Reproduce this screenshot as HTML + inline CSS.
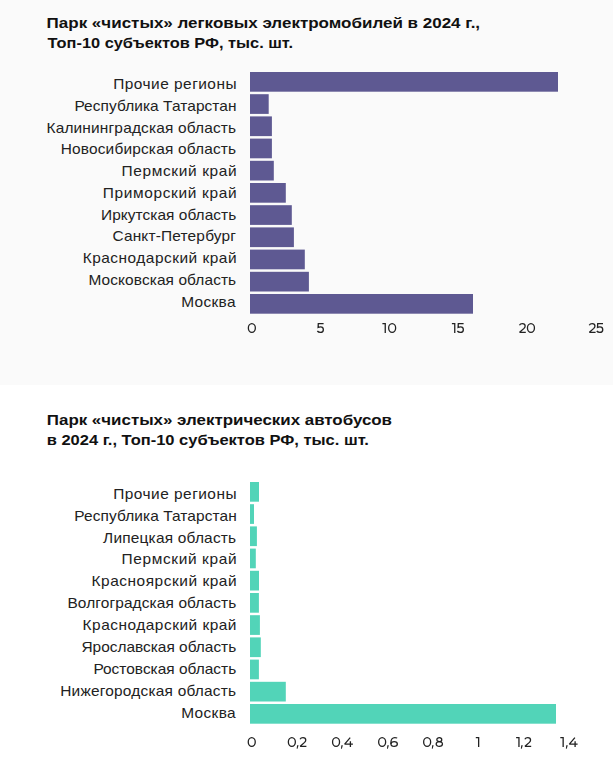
<!DOCTYPE html><html><head><meta charset="utf-8"><style>html,body{margin:0;padding:0;background:#fff;}svg{display:block;}text{font-family:"Liberation Sans",sans-serif;}</style></head><body>
<svg width="613" height="766" viewBox="0 0 613 766">
<rect x="0" y="0" width="613" height="385" fill="#fafafa"/>
<text x="46.62" y="27.9" font-size="15.2" font-weight="bold" fill="#111111" textLength="433.48" lengthAdjust="spacingAndGlyphs">Парк «чистых» легковых электромобилей в 2024 г.,</text>
<text x="47.61" y="47.9" font-size="15.2" font-weight="bold" fill="#111111" textLength="245.36" lengthAdjust="spacingAndGlyphs">Топ-10 субъектов РФ, тыс. шт.</text>
<rect x="250" y="72.00" width="308" height="19.7" fill="#5e5992"/>
<text transform="translate(236.54,89.00) scale(1.12,1)" x="0" y="0" font-size="13.8" fill="#222222" text-anchor="end" textLength="110.10" lengthAdjust="spacing">Прочие регионы</text>
<rect x="250" y="94.20" width="18.7" height="19.7" fill="#5e5992"/>
<text transform="translate(236.49,110.76) scale(1.12,1)" x="0" y="0" font-size="13.8" fill="#222222" text-anchor="end" textLength="144.71" lengthAdjust="spacing">Республика Татарстан</text>
<rect x="250" y="116.40" width="21.9" height="19.7" fill="#5e5992"/>
<text transform="translate(236.17,132.52) scale(1.12,1)" x="0" y="0" font-size="13.8" fill="#222222" text-anchor="end" textLength="169.37" lengthAdjust="spacing">Калининградская область</text>
<rect x="250" y="138.60" width="21.9" height="19.7" fill="#5e5992"/>
<text transform="translate(236.15,154.28) scale(1.12,1)" x="0" y="0" font-size="13.8" fill="#222222" text-anchor="end" textLength="156.72" lengthAdjust="spacing">Новосибирская область</text>
<rect x="250" y="160.80" width="23.8" height="19.7" fill="#5e5992"/>
<text transform="translate(236.56,176.04) scale(1.12,1)" x="0" y="0" font-size="13.8" fill="#222222" text-anchor="end" textLength="102.66" lengthAdjust="spacing">Пермский край</text>
<rect x="250" y="183.00" width="35.8" height="19.7" fill="#5e5992"/>
<text transform="translate(236.52,197.80) scale(1.12,1)" x="0" y="0" font-size="13.8" fill="#222222" text-anchor="end" textLength="119.50" lengthAdjust="spacing">Приморский край</text>
<rect x="250" y="205.20" width="41.8" height="19.7" fill="#5e5992"/>
<text transform="translate(236.24,219.56) scale(1.12,1)" x="0" y="0" font-size="13.8" fill="#222222" text-anchor="end" textLength="120.71" lengthAdjust="spacing">Иркутская область</text>
<rect x="250" y="227.40" width="43.9" height="19.7" fill="#5e5992"/>
<text transform="translate(235.93,241.32) scale(1.12,1)" x="0" y="0" font-size="13.8" fill="#222222" text-anchor="end" textLength="110.30" lengthAdjust="spacing">Санкт-Петербург</text>
<rect x="250" y="249.60" width="54.8" height="19.7" fill="#5e5992"/>
<text transform="translate(236.53,263.08) scale(1.12,1)" x="0" y="0" font-size="13.8" fill="#222222" text-anchor="end" textLength="137.38" lengthAdjust="spacing">Краснодарский край</text>
<rect x="250" y="271.80" width="58.9" height="19.7" fill="#5e5992"/>
<text transform="translate(236.18,284.84) scale(1.12,1)" x="0" y="0" font-size="13.8" fill="#222222" text-anchor="end" textLength="131.94" lengthAdjust="spacing">Московская область</text>
<rect x="250" y="294.00" width="223" height="19.7" fill="#5e5992"/>
<text transform="translate(235.49,306.60) scale(1.12,1)" x="0" y="0" font-size="13.8" fill="#222222" text-anchor="end" textLength="48.46" lengthAdjust="spacing">Москва</text>
<g transform="translate(247.70,323)" fill="none" stroke="#222222" stroke-width="1.3" stroke-miterlimit="2"><ellipse cx="4.15" cy="5" rx="3.5" ry="4.35"/></g>
<g transform="translate(317.00,323)" fill="none" stroke="#222222" stroke-width="1.3" stroke-miterlimit="2"><path d="M6.6,0.65H1.3L1.1,4.5C1.9,4.1 2.7,3.95 3.5,3.95C5.4,3.95 6.35,5.1 6.35,6.65C6.35,8.3 5.1,9.35 3.4,9.35C2.1,9.35 1.0,8.85 0.35,8.0"/></g>
<g transform="translate(382.40,323)" fill="none" stroke="#222222" stroke-width="1.3" stroke-miterlimit="2"><path d="M0,0.65H2.85V10"/></g>
<g transform="translate(388.00,323)" fill="none" stroke="#222222" stroke-width="1.3" stroke-miterlimit="2"><ellipse cx="4.15" cy="5" rx="3.5" ry="4.35"/></g>
<g transform="translate(451.90,323)" fill="none" stroke="#222222" stroke-width="1.3" stroke-miterlimit="2"><path d="M0,0.65H2.85V10"/></g>
<g transform="translate(457.00,323)" fill="none" stroke="#222222" stroke-width="1.3" stroke-miterlimit="2"><path d="M6.6,0.65H1.3L1.1,4.5C1.9,4.1 2.7,3.95 3.5,3.95C5.4,3.95 6.35,5.1 6.35,6.65C6.35,8.3 5.1,9.35 3.4,9.35C2.1,9.35 1.0,8.85 0.35,8.0"/></g>
<g transform="translate(518.70,323)" fill="none" stroke="#222222" stroke-width="1.3" stroke-miterlimit="2"><path d="M0.75,2.2C1.3,1.1 2.4,0.65 3.7,0.65C5.4,0.65 6.45,1.7 6.45,3.1C6.45,4.0 6.1,4.6 5.3,5.4L0.9,9.35H7.1"/></g>
<g transform="translate(526.80,323)" fill="none" stroke="#222222" stroke-width="1.3" stroke-miterlimit="2"><ellipse cx="4.15" cy="5" rx="3.5" ry="4.35"/></g>
<g transform="translate(588.50,323)" fill="none" stroke="#222222" stroke-width="1.3" stroke-miterlimit="2"><path d="M0.75,2.2C1.3,1.1 2.4,0.65 3.7,0.65C5.4,0.65 6.45,1.7 6.45,3.1C6.45,4.0 6.1,4.6 5.3,5.4L0.9,9.35H7.1"/></g>
<g transform="translate(596.40,323)" fill="none" stroke="#222222" stroke-width="1.3" stroke-miterlimit="2"><path d="M6.6,0.65H1.3L1.1,4.5C1.9,4.1 2.7,3.95 3.5,3.95C5.4,3.95 6.35,5.1 6.35,6.65C6.35,8.3 5.1,9.35 3.4,9.35C2.1,9.35 1.0,8.85 0.35,8.0"/></g>
<text x="46.83" y="424.7" font-size="15.2" font-weight="bold" fill="#111111" textLength="345.19" lengthAdjust="spacingAndGlyphs">Парк «чистых» электрических автобусов</text>
<text x="46.69" y="444.8" font-size="15.2" font-weight="bold" fill="#111111" textLength="322.21" lengthAdjust="spacingAndGlyphs">в 2024 г., Топ-10 субъектов РФ, тыс. шт.</text>
<rect x="250" y="482.00" width="9" height="19.7" fill="#52d4b8"/>
<text transform="translate(236.49,498.80) scale(1.12,1)" x="0" y="0" font-size="13.8" fill="#222222" text-anchor="end" textLength="110.08" lengthAdjust="spacing">Прочие регионы</text>
<rect x="250" y="504.20" width="4" height="19.7" fill="#52d4b8"/>
<text transform="translate(236.69,520.68) scale(1.12,1)" x="0" y="0" font-size="13.8" fill="#222222" text-anchor="end" textLength="144.96" lengthAdjust="spacing">Республика Татарстан</text>
<rect x="250" y="526.40" width="6.9" height="19.7" fill="#52d4b8"/>
<text transform="translate(236.16,542.56) scale(1.12,1)" x="0" y="0" font-size="13.8" fill="#222222" text-anchor="end" textLength="118.86" lengthAdjust="spacing">Липецкая область</text>
<rect x="250" y="548.60" width="5.8" height="19.7" fill="#52d4b8"/>
<text transform="translate(236.54,564.44) scale(1.12,1)" x="0" y="0" font-size="13.8" fill="#222222" text-anchor="end" textLength="102.65" lengthAdjust="spacing">Пермский край</text>
<rect x="250" y="570.80" width="9" height="19.7" fill="#52d4b8"/>
<text transform="translate(236.60,586.32) scale(1.12,1)" x="0" y="0" font-size="13.8" fill="#222222" text-anchor="end" textLength="129.58" lengthAdjust="spacing">Красноярский край</text>
<rect x="250" y="593.00" width="8.9" height="19.7" fill="#52d4b8"/>
<text transform="translate(236.29,608.20) scale(1.12,1)" x="0" y="0" font-size="13.8" fill="#222222" text-anchor="end" textLength="150.79" lengthAdjust="spacing">Волгоградская область</text>
<rect x="250" y="615.20" width="9.9" height="19.7" fill="#52d4b8"/>
<text transform="translate(236.46,630.08) scale(1.12,1)" x="0" y="0" font-size="13.8" fill="#222222" text-anchor="end" textLength="137.36" lengthAdjust="spacing">Краснодарский край</text>
<rect x="250" y="637.40" width="10.8" height="19.7" fill="#52d4b8"/>
<text transform="translate(236.21,651.96) scale(1.12,1)" x="0" y="0" font-size="13.8" fill="#222222" text-anchor="end" textLength="138.22" lengthAdjust="spacing">Ярославская область</text>
<rect x="250" y="659.60" width="8.9" height="19.7" fill="#52d4b8"/>
<text transform="translate(236.22,673.84) scale(1.12,1)" x="0" y="0" font-size="13.8" fill="#222222" text-anchor="end" textLength="127.53" lengthAdjust="spacing">Ростовская область</text>
<rect x="250" y="681.80" width="35.8" height="19.7" fill="#52d4b8"/>
<text transform="translate(236.13,695.72) scale(1.12,1)" x="0" y="0" font-size="13.8" fill="#222222" text-anchor="end" textLength="157.11" lengthAdjust="spacing">Нижегородская область</text>
<rect x="250" y="704.00" width="306" height="19.7" fill="#52d4b8"/>
<text transform="translate(235.59,717.60) scale(1.12,1)" x="0" y="0" font-size="13.8" fill="#222222" text-anchor="end" textLength="48.56" lengthAdjust="spacing">Москва</text>
<g transform="translate(247.60,737)" fill="none" stroke="#222222" stroke-width="1.3" stroke-miterlimit="2"><ellipse cx="4.15" cy="5" rx="3.5" ry="4.35"/></g>
<g transform="translate(287.70,737)" fill="none" stroke="#222222" stroke-width="1.3" stroke-miterlimit="2"><ellipse cx="4.15" cy="5" rx="3.5" ry="4.35"/></g>
<g transform="translate(296.60,737)" fill="none" stroke="#222222" stroke-width="1.3" stroke-miterlimit="2"><path d="M0.45,8.3H1.95L0.95,11.8H0.1Z" fill="#222222" stroke="none"/></g>
<g transform="translate(299.30,737)" fill="none" stroke="#222222" stroke-width="1.3" stroke-miterlimit="2"><path d="M0.75,2.2C1.3,1.1 2.4,0.65 3.7,0.65C5.4,0.65 6.45,1.7 6.45,3.1C6.45,4.0 6.1,4.6 5.3,5.4L0.9,9.35H7.1"/></g>
<g transform="translate(331.90,737)" fill="none" stroke="#222222" stroke-width="1.3" stroke-miterlimit="2"><ellipse cx="4.15" cy="5" rx="3.5" ry="4.35"/></g>
<g transform="translate(340.90,737)" fill="none" stroke="#222222" stroke-width="1.3" stroke-miterlimit="2"><path d="M0.45,8.3H1.95L0.95,11.8H0.1Z" fill="#222222" stroke="none"/></g>
<g transform="translate(344.00,737)" fill="none" stroke="#222222" stroke-width="1.3" stroke-miterlimit="2"><path d="M6.2,0.6L0.65,7.15H8.9M6.4,4.2V10"/></g>
<g transform="translate(378.00,737)" fill="none" stroke="#222222" stroke-width="1.3" stroke-miterlimit="2"><ellipse cx="4.15" cy="5" rx="3.5" ry="4.35"/></g>
<g transform="translate(386.90,737)" fill="none" stroke="#222222" stroke-width="1.3" stroke-miterlimit="2"><path d="M0.45,8.3H1.95L0.95,11.8H0.1Z" fill="#222222" stroke="none"/></g>
<g transform="translate(390.30,737)" fill="none" stroke="#222222" stroke-width="1.3" stroke-miterlimit="2"><ellipse cx="3.85" cy="6.95" rx="3.2" ry="2.4"/><path d="M6.9,1.0C6.1,0.75 5.3,0.65 4.5,0.65C2.1,0.65 0.65,2.6 0.65,5.4V7.0"/></g>
<g transform="translate(423.00,737)" fill="none" stroke="#222222" stroke-width="1.3" stroke-miterlimit="2"><ellipse cx="4.15" cy="5" rx="3.5" ry="4.35"/></g>
<g transform="translate(431.70,737)" fill="none" stroke="#222222" stroke-width="1.3" stroke-miterlimit="2"><path d="M0.45,8.3H1.95L0.95,11.8H0.1Z" fill="#222222" stroke="none"/></g>
<g transform="translate(435.50,737)" fill="none" stroke="#222222" stroke-width="1.3" stroke-miterlimit="2"><ellipse cx="3.8" cy="2.65" rx="2.45" ry="2.0"/><ellipse cx="3.8" cy="7.0" rx="3.15" ry="2.35"/></g>
<g transform="translate(475.80,737)" fill="none" stroke="#222222" stroke-width="1.3" stroke-miterlimit="2"><path d="M0,0.65H2.85V10"/></g>
<g transform="translate(516.10,737)" fill="none" stroke="#222222" stroke-width="1.3" stroke-miterlimit="2"><path d="M0,0.65H2.85V10"/></g>
<g transform="translate(520.80,737)" fill="none" stroke="#222222" stroke-width="1.3" stroke-miterlimit="2"><path d="M0.45,8.3H1.95L0.95,11.8H0.1Z" fill="#222222" stroke="none"/></g>
<g transform="translate(524.10,737)" fill="none" stroke="#222222" stroke-width="1.3" stroke-miterlimit="2"><path d="M0.75,2.2C1.3,1.1 2.4,0.65 3.7,0.65C5.4,0.65 6.45,1.7 6.45,3.1C6.45,4.0 6.1,4.6 5.3,5.4L0.9,9.35H7.1"/></g>
<g transform="translate(560.30,737)" fill="none" stroke="#222222" stroke-width="1.3" stroke-miterlimit="2"><path d="M0,0.65H2.85V10"/></g>
<g transform="translate(565.80,737)" fill="none" stroke="#222222" stroke-width="1.3" stroke-miterlimit="2"><path d="M0.45,8.3H1.95L0.95,11.8H0.1Z" fill="#222222" stroke="none"/></g>
<g transform="translate(568.70,737)" fill="none" stroke="#222222" stroke-width="1.3" stroke-miterlimit="2"><path d="M6.2,0.6L0.65,7.15H8.9M6.4,4.2V10"/></g>
</svg></body></html>
